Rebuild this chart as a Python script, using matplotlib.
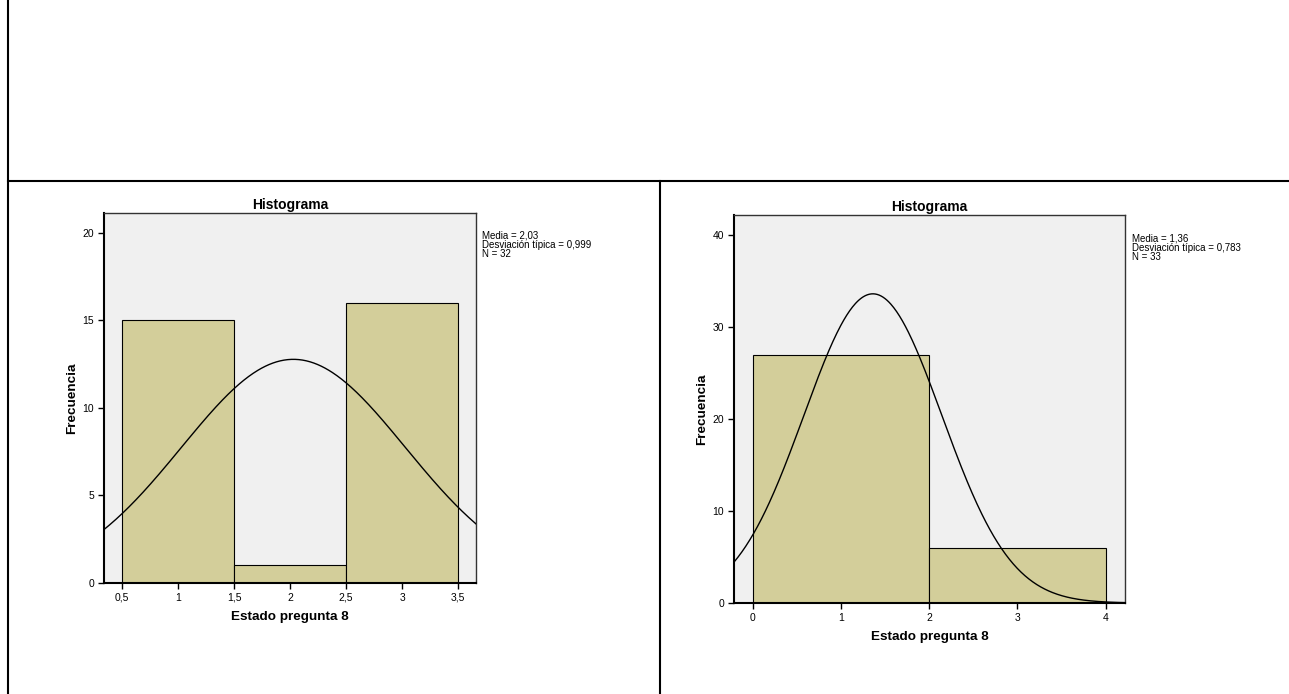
import numpy as np
import matplotlib
matplotlib.use("Agg")
import matplotlib.pyplot as plt
from matplotlib.lines import Line2D

plt.rcParams['font.family'] = ['Liberation Sans', 'DejaVu Sans']

# ---- data ----
left_edges = [0.5, 1.5, 2.5, 3.5]
left_counts = [15, 1, 16]
left_mean, left_sd, left_n = 2.03, 0.999, 32
left_xticks = [0.5, 1, 1.5, 2, 2.5, 3, 3.5]
left_xticklabels = ["0,5", "1", "1,5", "2", "2,5", "3", "3,5"]
left_yticks = [0, 5, 10, 15, 20]

right_edges = [0, 2, 4]
right_counts = [27, 6]
right_mean, right_sd, right_n = 1.36, 0.783, 33
right_xticks = [0, 1, 2, 3, 4]
right_xticklabels = ["0", "1", "2", "3", "4"]
right_yticks = [0, 10, 20, 30, 40]

title = "Histograma"
xlabel = "Estado pregunta 8"
ylabel = "Frecuencia"

W, H = 1289, 694
fig = plt.figure(figsize=(W / 100, H / 100), dpi=100)
fig.patch.set_facecolor("white")

def px_axes(x0, y0, x1, y1):
    return fig.add_axes([x0 / W, 1 - y1 / H, (x1 - x0) / W, (y1 - y0) / H])

# table lines
fig.add_artist(Line2D([8 / W, 8 / W], [0, 1], color="black", lw=1.5))
fig.add_artist(Line2D([8 / W, 1], [1 - 181 / H, 1 - 181 / H], color="black", lw=1.5))
fig.add_artist(Line2D([660 / W, 660 / W], [0, 1 - 181 / H], color="black", lw=1.5))

bar_color = "#D3CE9A"
bg = "#F0F0F0"

def draw(ax, edges, counts, mean, sd, n, xlim, ylim, xticks, xticklabels, yticks, stats_x, stats_y):
    ax.set_facecolor(bg)
    edges = np.array(edges, dtype=float)
    widths = np.diff(edges)
    ax.bar(edges[:-1], counts, width=widths, align="edge", color=bar_color,
           edgecolor="black", linewidth=0.8, zorder=2)
    bw = widths[0]
    xs = np.linspace(xlim[0], xlim[1], 400)
    ys = n * bw * np.exp(-0.5 * ((xs - mean) / sd) ** 2) / (sd * np.sqrt(2 * np.pi))
    ax.plot(xs, ys, color="black", lw=1.0, zorder=3)
    ax.set_xlim(*xlim)
    ax.set_ylim(*ylim)
    ax.set_xticks(xticks)
    ax.set_xticklabels(xticklabels)
    ax.set_yticks(yticks)
    ax.tick_params(direction="out", length=4, width=1, labelsize=7.5, pad=3)
    for s in ["left", "bottom"]:
        ax.spines[s].set_linewidth(1.5)
    for s in ["top", "right"]:
        ax.spines[s].set_linewidth(1.0)
        ax.spines[s].set_color("#333333")
    ax.set_title(title, fontsize=10, fontweight="bold", pad=3)
    ax.set_xlabel(xlabel, fontsize=9.7, fontweight="bold", labelpad=6)
    ax.set_ylabel(ylabel, fontsize=9.7, fontweight="bold", labelpad=3)
    txt = f"Media = {mean:.2f}\nDesviación típica = {sd:.3f}\nN = {n}".replace(".", ",")
    fig.text(stats_x / W, 1 - stats_y / H, txt, fontsize=7.0, va="top", ha="left",
             linespacing=0.9)

axL = px_axes(104, 213, 476, 583)
draw(axL, left_edges, left_counts, left_mean, left_sd, left_n, (0.34, 3.66), (0, 21.14),
     left_xticks, left_xticklabels, left_yticks, 482, 231)

axR = px_axes(734, 215, 1125, 603)
draw(axR, right_edges, right_counts, right_mean, right_sd, right_n, (-0.215, 4.22), (0, 42.2),
     right_xticks, right_xticklabels, right_yticks, 1132, 234)

fig.savefig("out.png", dpi=100)
